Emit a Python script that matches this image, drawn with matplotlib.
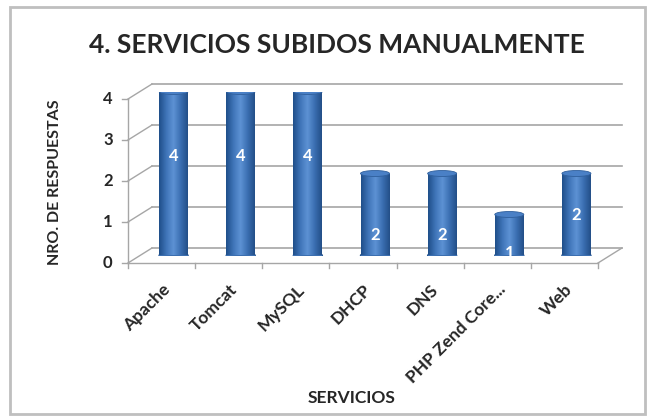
import numpy as np
import matplotlib.pyplot as plt
from matplotlib.colors import LinearSegmentedColormap
from matplotlib.patches import Ellipse, Rectangle

servicios = ['Apache', 'Tomcat', 'MySQL', 'DHCP', 'DNS', 'PHP Zend Core...', 'Web']
respuestas = [4, 4, 4, 2, 2, 1, 2]
label_pos = [2.43, 2.43, 2.43, 0.5, 0.5, 0.06, 0.99]  # where excel dropped the labels
yticks = [0, 1, 2, 3, 4]

W, H = 650, 420
fig = plt.figure(figsize=(W / 100, H / 100), dpi=100)
plt.rcParams['font.family'] = ['Lato', 'DejaVu Sans']

# middle plane of the fake 3d box, in pixels
left, right = 140, 610
y0_px, y4_px = 255.5, 91.5
ax = fig.add_axes([left / W, (H - y0_px) / H, (right - left) / W, (y0_px - y4_px) / H])
ax.set_xlim(-0.5, len(servicios) - 0.5)
ax.set_ylim(0, 4)
ax.axis('off')

ppx = (right - left) / len(servicios)
ppy = (y0_px - y4_px) / 4
dx = 12 / ppx   # depth offset in data units
dy = 7.5 / ppy
grid_c = '#a6a6a6'
txt_c = '#262626'
xa, xb = -0.5, len(servicios) - 0.5

# back wall gridlines + diagonals to the front axis
for v in yticks:
    ax.plot([xa + dx, xb + dx], [v + dy, v + dy], color=grid_c, lw=1.2, clip_on=False)
    ax.plot([xa - dx, xa + dx], [v - dy, v + dy], color=grid_c, lw=1, clip_on=False)
    ax.plot([xa - dx - 0.09, xa - dx], [v - dy, v - dy], color=grid_c, lw=1, clip_on=False)
    ax.text(xa - dx - 0.3, v - dy, str(v), ha='center', va='center',
            fontsize=12, fontweight='bold', color=txt_c)

# floor and front axis
ax.plot([xa - dx, xb - dx], [-dy, -dy], color=grid_c, lw=1, clip_on=False)
ax.plot([xb - dx, xb + dx], [-dy, dy], color=grid_c, lw=1, clip_on=False)
ax.plot([xa - dx, xa - dx], [-dy, 4 - dy], color=grid_c, lw=1, clip_on=False)
for b in np.arange(xa, xb + 0.5):
    ax.plot([b - dx, b - dx], [-dy, -dy - 0.12], color=grid_c, lw=1, clip_on=False)

# cylinders
cmap = LinearSegmentedColormap.from_list('cyl', ['#1f4f8a', '#3f74b8', '#5d92d4', '#3b6fb2', '#234f88'])
grad = np.linspace(0, 1, 64).reshape(1, -1)
bw = 29 / ppx
eh = 6 / ppy
bars = ax.bar(range(len(servicios)), respuestas, width=bw, color='#3c6fb0', zorder=3)
for i, (bar, val) in enumerate(zip(bars, respuestas)):
    x0 = bar.get_x()
    ax.add_patch(Ellipse((i, 0), bw, eh, color='#27558f', zorder=2.9))
    im = ax.imshow(grad, cmap=cmap, aspect='auto', extent=[x0, x0 + bw, 0, val], zorder=3.1)
    im.set_clip_path(bar)
    ax.add_patch(Ellipse((i, val), bw, eh, color='#4a80c6', ec='#2f5f9c', lw=0.6, zorder=3.2))
    ax.text(i, label_pos[i], str(val), ha='center', va='center', color='white',
            fontsize=12, fontweight='bold', zorder=4)

# category labels
for i, s in enumerate(servicios):
    ax.text(i - dx + 0.0, -dy - 0.45, s, rotation=45, ha='right', va='top',
            rotation_mode='anchor', fontsize=12.5, fontweight='bold', color=txt_c)

fig.text(337 / W, 1 - 45 / H, '4. SERVICIOS SUBIDOS MANUALMENTE', ha='center', va='center',
         fontsize=19, fontweight='bold', color=txt_c)
fig.text(55 / W, 1 - 182 / H, 'NRO. DE RESPUESTAS', rotation=90, ha='center', va='center',
         fontsize=11.5, fontweight='bold', color=txt_c)
fig.text(352 / W, 1 - 398 / H, 'SERVICIOS', ha='center', va='center',
         fontsize=12.5, fontweight='bold', color=txt_c)

fig.patches.append(Rectangle((10 / W, 1 - 414 / H), 635 / W, 407 / H, transform=fig.transFigure,
                             fill=False, ec='#bfbfbf', lw=2))

fig.savefig('out.png', dpi=100)
